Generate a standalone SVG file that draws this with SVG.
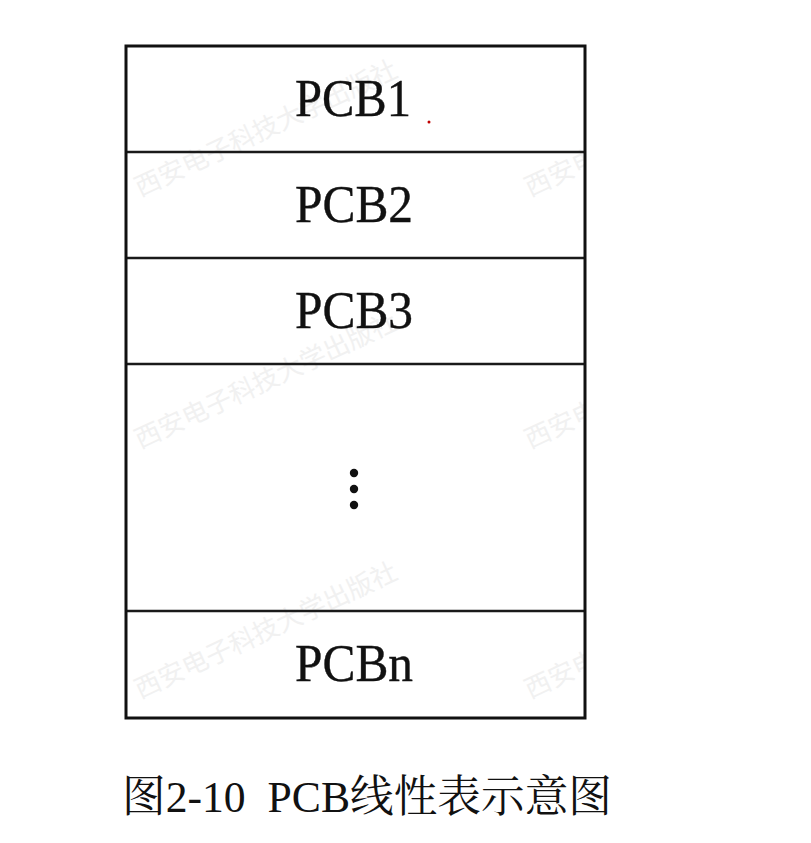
<svg xmlns="http://www.w3.org/2000/svg" width="811" height="843" viewBox="0 0 811 843">
<style>
.lbl{font-family:"Liberation Serif","Times New Roman",serif;font-size:53px;fill:#111;stroke:#111;stroke-width:0.4;text-anchor:middle}
.cap{font-family:"Liberation Serif","Noto Serif CJK SC","Noto Sans CJK SC",serif;font-size:44px;fill:#111}
.wm{font-family:"Noto Sans CJK SC",sans-serif;font-size:26px;fill:#f1f1f1}
.div{stroke:#1a1a1a;stroke-width:2.5}
</style>
<defs>
<clipPath id="box"><rect x="126" y="46" width="459" height="672"/></clipPath>
</defs>
<rect width="811" height="843" fill="#fff"/>
<g id="watermarks" clip-path="url(#box)">
<text class="wm" transform="translate(140,197) rotate(-25)">西安电子科技大学出版社</text>
<text class="wm" transform="translate(140,449) rotate(-25)">西安电子科技大学出版社</text>
<text class="wm" transform="translate(140,699) rotate(-25)">西安电子科技大学出版社</text>
<text class="wm" transform="translate(530,197) rotate(-25)">西安电子科技大学出版社</text>
<text class="wm" transform="translate(530,449) rotate(-25)">西安电子科技大学出版社</text>
<text class="wm" transform="translate(530,699) rotate(-25)">西安电子科技大学出版社</text>
</g>
<g id="connectors">
<line class="div" x1="126" y1="152" x2="585" y2="152"/>
<line class="div" x1="126" y1="258" x2="585" y2="258"/>
<line class="div" x1="126" y1="364" x2="585" y2="364"/>
<line class="div" x1="126" y1="611" x2="585" y2="611"/>
</g>
<rect id="frame" x="126" y="46" width="459" height="672" fill="none" stroke="#111" stroke-width="3"/>
<g id="pcb1"><text class="lbl" x="353" y="116" textLength="116" lengthAdjust="spacingAndGlyphs">PCB1</text></g>
<g id="pcb2"><text class="lbl" x="354" y="222" textLength="118" lengthAdjust="spacingAndGlyphs">PCB2</text></g>
<g id="pcb3"><text class="lbl" x="354" y="328" textLength="118" lengthAdjust="spacingAndGlyphs">PCB3</text></g>
<g id="ellipsis">
<circle cx="354" cy="473" r="4.2" fill="#111"/>
<circle cx="354" cy="489" r="4.2" fill="#111"/>
<circle cx="354" cy="505" r="4.2" fill="#111"/>
</g>
<g id="pcbn"><text class="lbl" x="354" y="681" textLength="118" lengthAdjust="spacingAndGlyphs">PCBn</text></g>
<circle cx="429" cy="122" r="1.5" fill="#c00000"/>
<text class="cap" x="122" y="812" textLength="490" lengthAdjust="spacingAndGlyphs" xml:space="preserve">图2-10  PCB线性表示意图</text>
</svg>
